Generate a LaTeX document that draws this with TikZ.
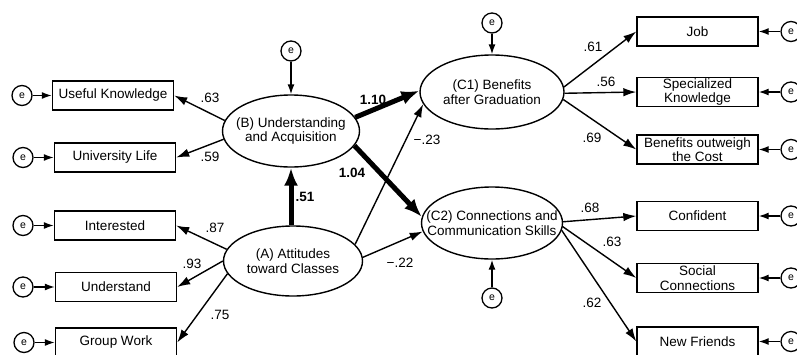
\documentclass[tikz,border=0pt]{standalone}
\usepackage{fontspec}
\setmainfont{Liberation Sans}
\usetikzlibrary{arrows.meta,shapes.geometric}
\newcommand{\dgfont}{\fontsize{13.5}{14.5}\selectfont}
\newcommand{\efont}{\fontsize{10.5}{10.5}\selectfont}
\tikzset{
  obs/.style={draw,line width=1.4pt,minimum width=121pt,minimum height=29pt,
              inner sep=1pt,align=center,font=\dgfont},
  lat/.style={ellipse,draw,line width=1.4pt,inner sep=0pt},
  lattext/.style={align=center,font=\dgfont},
  err/.style={circle,draw,line width=1.3pt,minimum size=20pt,inner sep=0pt,font=\efont},
  pth/.style={-{Latex[length=13pt,width=8.5pt]},line width=1.4pt},
  epth/.style={-{Latex[length=10pt,width=7pt]},line width=1.4pt},
  bigpth/.style={-{Latex[length=18pt,width=14pt]},line width=5pt},
  coef/.style={font=\dgfont,inner sep=0pt},
  bigcoef/.style={font=\dgfont\bfseries,inner sep=0pt}
}

\begin{document}
\begin{tikzpicture}[x=1pt,y=-1pt]
  \useasboundingbox (0,0) rectangle (797,354);
  \clip (0,0) rectangle (797,354);
  \fill[white] (0,0) rectangle (797,354);

  % latent variables
  \node[lat,minimum width=137pt,minimum height=72pt] (B) at (291,131) {};
  \node[lattext] (Bt) at (B) {(B) Understanding\\and Acquisition};
  \node[lat,minimum width=139pt,minimum height=70pt] (A) at (293,261) {};
  \node[lattext] (At) at (A) {(A) Attitudes\\toward Classes};
  \node[lat,minimum width=144pt,minimum height=74pt] (C1) at (492,92) {};
  \node[lattext] (C1t) at (C1) {(C1) Benefits\\after Graduation};
  \node[lat,minimum width=141pt,minimum height=72pt] (C2) at (492,223) {};
  \node[lattext] (C2t) at (C2) {(C2) Connections and\\Communication Skills};

  % observed variables, left
  \node[obs] (uk) at (113,95.5) {Useful Knowledge};
  \node[obs] (ul) at (115,157.5) {University Life};
  \node[obs] (int) at (115,225.5) {Interested};
  \node[obs] (und) at (116,287) {Understand};
  \node[obs] (gw) at (116,342.5) {Group Work};

  % observed variables, right
  \node[obs] (job) at (697.5,31.5) {Job};
  \node[obs] (spec) at (697.5,92) {Specialized\\Knowledge};
  \node[obs] (ben) at (697.5,149.5) {Benefits outweigh\\the Cost};
  \node[obs] (conf) at (697.5,216) {Confident};
  \node[obs] (soc) at (697.5,278) {Social\\Connections};
  \node[obs] (nf) at (697.5,341.5) {New Friends};

  % error terms
  \node[err] (euk) at (22,95.5) {e};
  \node[err] (eul) at (23,157.5) {e};
  \node[err] (eint) at (23,225.5) {e};
  \node[err] (eund) at (23,287) {e};
  \node[err] (egw) at (24,342.5) {e};
  \node[err] (ejob) at (791,31.5) {e};
  \node[err] (espec) at (791,92) {e};
  \node[err] (eben) at (791,149.5) {e};
  \node[err] (econf) at (791,216) {e};
  \node[err] (esoc) at (791,278) {e};
  \node[err] (enf) at (791,341.5) {e};
  \node[err] (eB) at (291,51) {e};
  \node[err] (eC1) at (492,23) {e};
  \node[err] (eC2) at (492,298) {e};

  \draw[epth] (euk) -- (uk);
  \draw[epth] (eul) -- (ul);
  \draw[epth] (eint) -- (int);
  \draw[epth] (eund) -- (und);
  \draw[epth] (egw) -- (gw);
  \draw[epth] (ejob) -- (job);
  \draw[epth] (espec) -- (spec);
  \draw[epth] (eben) -- (ben);
  \draw[epth] (econf) -- (conf);
  \draw[epth] (esoc) -- (soc);
  \draw[epth] (enf) -- (nf);
  \draw[epth] (eB) -- (B);
  \draw[epth] (eC1) -- (C1);
  \draw[epth] (eC2) -- (C2);

  % measurement paths
  \draw[pth] (B.171) -- (uk.east);
  \draw[pth] (B.187) -- (ul.east);
  \draw[pth] (A.170) -- (int.east);
  \draw[pth] (A.180) -- (und.east);
  \draw[pth] (A.191) -- (gw.east);
  \draw[pth] (C1.4) -- (job.west);
  \draw[pth] (C1.-1) -- (spec.west);
  \draw[pth] (C1.-6) -- (ben.west);
  \draw[pth] (C2.1) -- (conf.west);
  \draw[pth] (C2.-3) -- (soc.west);
  \draw[pth] (C2.-6) -- (nf.west);

  % structural paths
  \draw[bigpth] (A.north -| B.south) -- (B.south);
  \draw[bigpth] (B.12) -- (C1.179);
  \draw[bigpth] (B.-13) -- (C2.175);
  \draw[pth] (A.15) -- (C1.190);
  \draw[pth] (A.3) -- (C2.187);

  % coefficients
  \node[coef] (k63a) at (210,98) {.63};
  \node[coef] (k59) at (210,157) {.59};
  \node[coef] (k87) at (215,228) {.87};
  \node[coef] (k93) at (192,264) {.93};
  \node[coef] (k75) at (220,315) {.75};
  \node[bigcoef] (k51) at (305,197) {.51};
  \node[bigcoef] (k110) at (373,100) {1.10};
  \node[bigcoef] (k104) at (352,173) {1.04};
  \node[coef] (k23) at (427,140) {−.23};
  \node[coef] (k22) at (400,263) {−.22};
  \node[coef] (k61) at (593,47) {.61};
  \node[coef] (k56) at (606,82) {.56};
  \node[coef] (k69) at (592,138) {.69};
  \node[coef] (k68) at (590,208) {.68};
  \node[coef] (k63b) at (612,242) {.63};
  \node[coef] (k62) at (592,303) {.62};
\end{tikzpicture}
\end{document}
